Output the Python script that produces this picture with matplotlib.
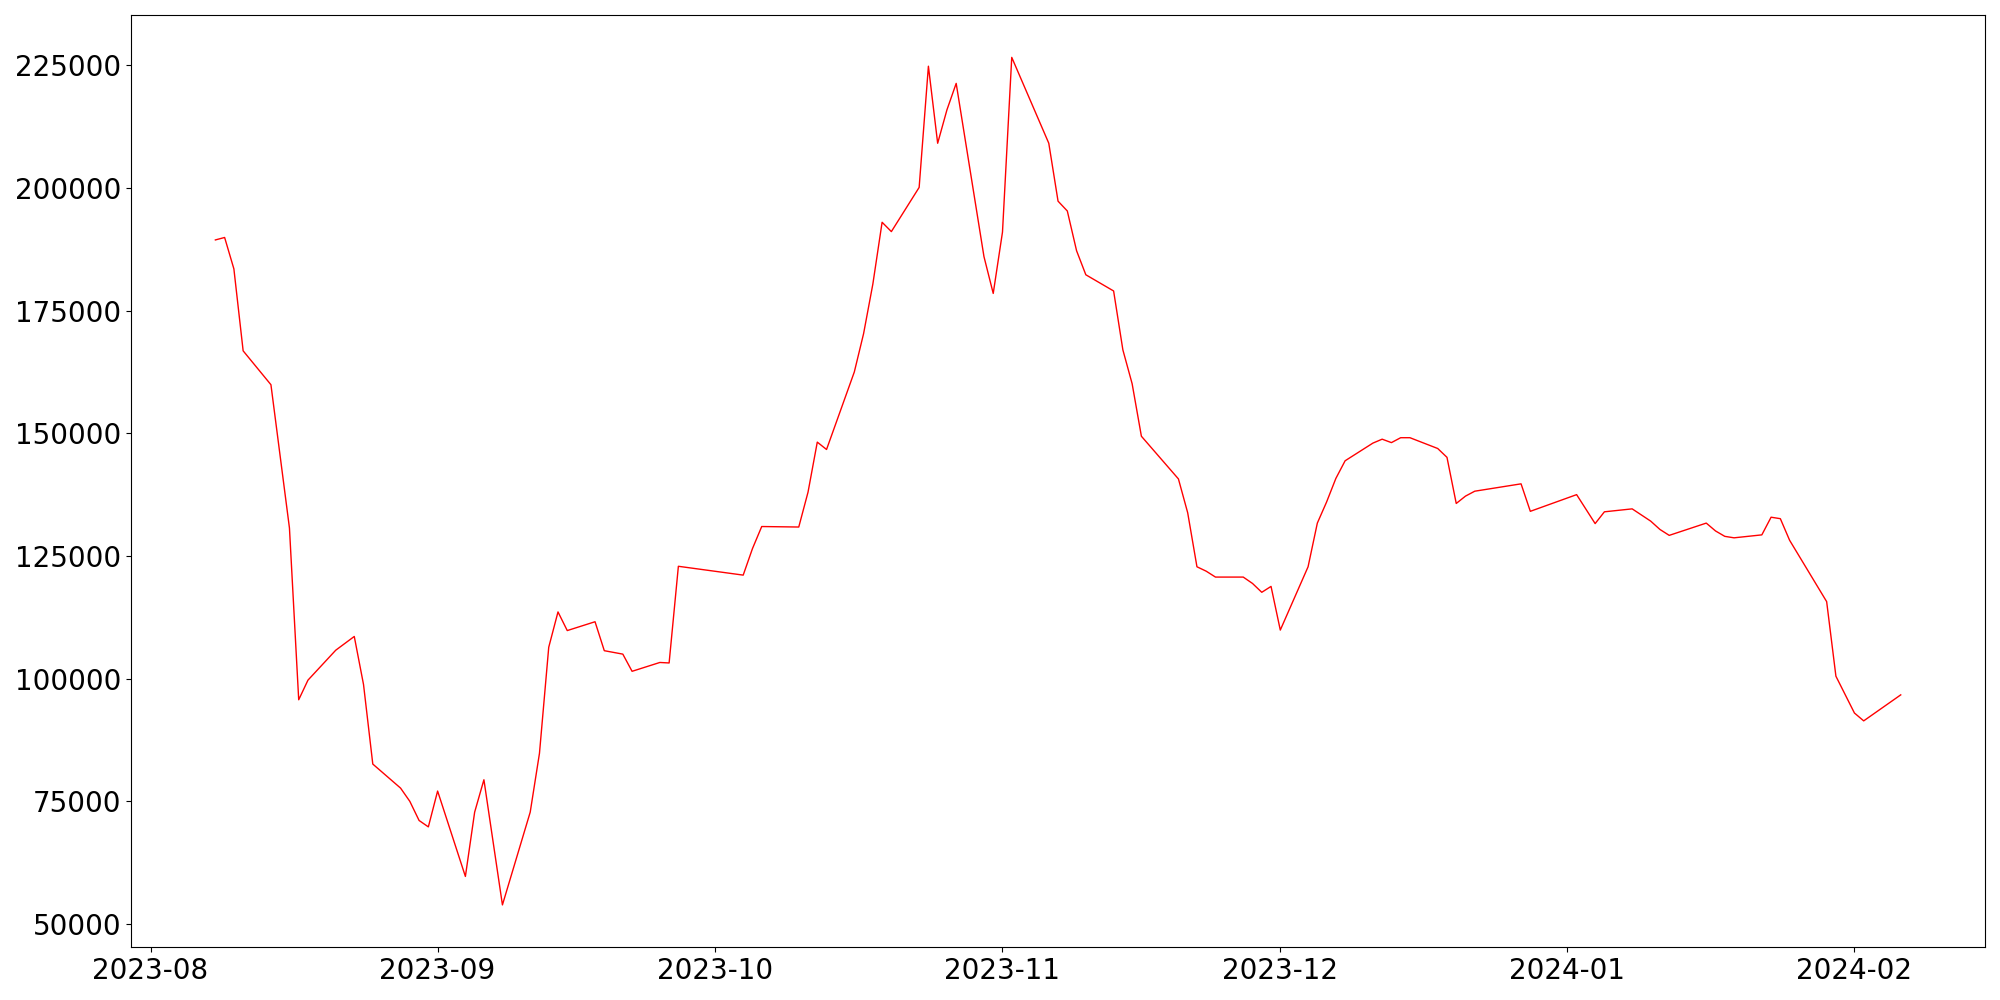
import pandas as pd
import matplotlib
matplotlib.use("Agg")
import matplotlib.pyplot as plt

# Dates (jours de cotation) et valeurs
dates = [
    "2023-08-08", "2023-08-09", "2023-08-10", "2023-08-11", "2023-08-14",
    "2023-08-16", "2023-08-17", "2023-08-18", "2023-08-21", "2023-08-22",
    "2023-08-23", "2023-08-24", "2023-08-25", "2023-08-28", "2023-08-29",
    "2023-08-30", "2023-08-31", "2023-09-01", "2023-09-04", "2023-09-05",
    "2023-09-06", "2023-09-08", "2023-09-11", "2023-09-12", "2023-09-13",
    "2023-09-14", "2023-09-15", "2023-09-18", "2023-09-19", "2023-09-21",
    "2023-09-22", "2023-09-25", "2023-09-26", "2023-09-27", "2023-10-04",
    "2023-10-05", "2023-10-06", "2023-10-10", "2023-10-11", "2023-10-12",
    "2023-10-13", "2023-10-16", "2023-10-17", "2023-10-18", "2023-10-19",
    "2023-10-20", "2023-10-23", "2023-10-24", "2023-10-25", "2023-10-26",
    "2023-10-27", "2023-10-30", "2023-10-31", "2023-11-01", "2023-11-02",
    "2023-11-06", "2023-11-07", "2023-11-08", "2023-11-09", "2023-11-10",
    "2023-11-13", "2023-11-14", "2023-11-15", "2023-11-16", "2023-11-20",
    "2023-11-21", "2023-11-22", "2023-11-23", "2023-11-24", "2023-11-27",
    "2023-11-28", "2023-11-29", "2023-11-30", "2023-12-01", "2023-12-04",
    "2023-12-05", "2023-12-06", "2023-12-07", "2023-12-08", "2023-12-11",
    "2023-12-12", "2023-12-13", "2023-12-14", "2023-12-15", "2023-12-18",
    "2023-12-19", "2023-12-20", "2023-12-21", "2023-12-22", "2023-12-27",
    "2023-12-28", "2024-01-02", "2024-01-04", "2024-01-05", "2024-01-08",
    "2024-01-10", "2024-01-11", "2024-01-12", "2024-01-16", "2024-01-17",
    "2024-01-18", "2024-01-19", "2024-01-22", "2024-01-23", "2024-01-24",
    "2024-01-25", "2024-01-29", "2024-01-30", "2024-02-01", "2024-02-02",
    "2024-02-06",
]
valeurs = [
    189400, 189900, 183500, 166800, 159900,
    130700, 95700, 99700, 105800, 107200,
    108600, 98800, 82600, 77700, 75000,
    71100, 69800, 77100, 59700, 72800,
    79400, 53900, 72800, 84800, 106400,
    113600, 109800, 111600, 105700, 105000,
    101500, 103300, 103200, 122900, 121100,
    126500, 131000, 130900, 138000, 148200,
    146700, 162500, 170300, 180400, 193000,
    191100, 200100, 224800, 209100, 215900,
    221300, 186000, 178500, 191000, 226600,
    209100, 197300, 195300, 187200, 182300,
    179000, 167000, 160100, 149400, 140700,
    133800, 122800, 121900, 120700, 120700,
    119400, 117600, 118800, 109900, 122800,
    131700, 136000, 140800, 144400, 148000,
    148800, 148100, 149100, 149100, 146900,
    145100, 135700, 137200, 138200, 139700,
    134100, 137500, 131600, 134000, 134600,
    132100, 130400, 129200, 131700, 130100,
    129000, 128700, 129300, 132900, 132600,
    128200, 115700, 100500, 93000, 91400,
    96700,
]

x = pd.to_datetime(dates)

plt.figure(figsize=(20, 10))
plt.plot(x, valeurs, color='red', linewidth=1)
plt.xticks(fontsize=20)
plt.yticks(fontsize=20)
plt.tight_layout()
plt.savefig("out.png", dpi=100)
